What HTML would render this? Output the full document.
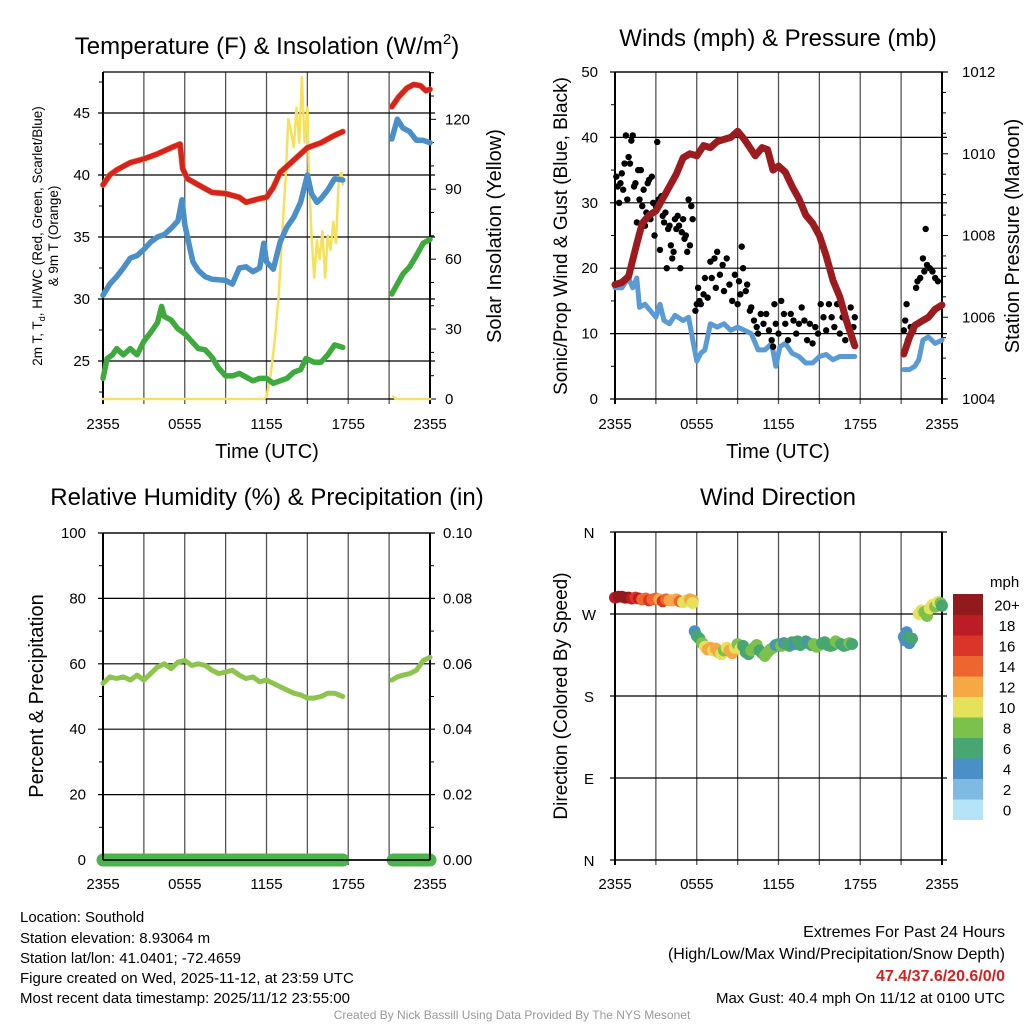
<!DOCTYPE html>
<html><head><meta charset="utf-8">
<style>
html,body{margin:0;padding:0;background:#fff;}
svg{display:block;font-family:"Liberation Sans",Arial,sans-serif;}
</style></head>
<body>
<svg id="chart" width="1024" height="1024" viewBox="0 0 1024 1024">
<rect x="0" y="0" width="1024" height="1024" fill="#fff"/>
<text x="267" y="54" font-size="24" text-anchor="middle">Temperature (F) &amp; Insolation (W/m<tspan font-size="15" dy="-10">2</tspan><tspan dy="10">)</tspan></text>
<text x="778" y="46" font-size="24" text-anchor="middle">Winds (mph) &amp; Pressure (mb)</text>
<text x="267" y="505" font-size="24" text-anchor="middle">Relative Humidity (%) &amp; Precipitation (in)</text>
<text x="778" y="505" font-size="24" text-anchor="middle">Wind Direction</text>

<text x="267" y="458" font-size="20" text-anchor="middle">Time (UTC)</text>
<text x="778" y="458" font-size="20" text-anchor="middle">Time (UTC)</text>

<text transform="translate(42,236) rotate(-90)" font-size="13.5" text-anchor="middle">2m T, T<tspan font-size="9" dy="3">d</tspan><tspan dy="-3">, HI/WC (Red, Green, Scarlet/Blue)</tspan></text>
<text transform="translate(58,236) rotate(-90)" font-size="13.5" text-anchor="middle">&amp; 9m T (Orange)</text>
<text transform="translate(501,236) rotate(-90)" font-size="20" text-anchor="middle">Solar Insolation (Yellow)</text>
<text transform="translate(567,236) rotate(-90)" font-size="19" text-anchor="middle">Sonic/Prop Wind &amp; Gust (Blue, Black)</text>
<text transform="translate(1019,236) rotate(-90)" font-size="20" text-anchor="middle">Station Pressure (Maroon)</text>
<text transform="translate(43,696) rotate(-90)" font-size="20" text-anchor="middle">Percent &amp; Precipitation</text>
<text transform="translate(567,696) rotate(-90)" font-size="19" text-anchor="middle">Direction (Colored By Speed)</text>

<g font-size="15">
<text x="20" y="922">Location: Southold</text>
<text x="20" y="943">Station elevation: 8.93064 m</text>
<text x="20" y="963">Station lat/lon: 41.0401; -72.4659</text>
<text x="20" y="983">Figure created on Wed, 2025-11-12, at 23:59 UTC</text>
<text x="20" y="1003">Most recent data timestamp: 2025/11/12 23:55:00</text>
</g>
<g font-size="15" text-anchor="end">
<text x="1005" y="937" font-size="16">Extremes For Past 24 Hours</text>
<text x="1005" y="959" font-size="16">(High/Low/Max Wind/Precipitation/Snow Depth)</text>
<text x="1005" y="981" font-size="16" font-weight="bold" fill="#d62020">47.4/37.6/20.6/0/0</text>
<text x="1005" y="1003">Max Gust: 40.4 mph On 11/12 at 0100 UTC</text>
</g>
<text x="512" y="1019" font-size="12" fill="#999" text-anchor="middle">Created By Nick Bassill Using Data Provided By The NYS Mesonet</text>
</svg>
<script>
// ---------- Data ----------
const xTickLabels = ["2355","0555","1155","1755","2355"];
const tempT = [0,0.5,1,1.5,2,3,4,5,5.65,5.85,6.2,7,8,9,10,10.5,11.5,12,12.5,13,14,15,16,17,17.6,21.2,21.7,22.3,22.8,23.3,23.7,24];
const tempV = [39.2,40,40.4,40.7,41,41.3,41.7,42.2,42.5,40.5,39.7,39.2,38.6,38.5,38.2,37.8,38.1,38.2,39,40.2,41.2,42.2,42.6,43.2,43.5,45.5,46.3,47,47.3,47.2,46.8,46.9];
const dewT = [0,0.5,1,1.5,2,2.5,3,3.5,4,4.5,5,5.5,5.8,6,6.3,6.6,7,7.5,8,9,9.5,10,10.5,11,11.5,11.8,12,12.5,13,13.5,14,14.5,15,15.3,15.7,16,16.5,17,17.6,21.2,21.6,22,22.5,23,23.5,24];
const dewV = [30.3,31.2,31.8,32.5,33.3,33.5,34,34.6,35,35.2,35.7,36.3,38,36,34.5,33,32.3,31.8,31.6,31.5,31.2,32.5,32.6,32.2,32.5,34.5,33,32.4,34.6,35.8,36.6,37.8,40,38.5,37.8,38.1,38.8,39.7,39.6,42.9,44.5,43.8,43.5,42.8,42.8,42.6];
const wcT = [0,0.3,0.7,1,1.5,2,2.5,3,3.5,4,4.3,4.5,5,5.5,6,6.5,7,7.5,8,8.5,9,9.5,10,10.5,11,11.5,12,12.5,13,13.5,14,14.5,14.9,15.5,16,16.5,17,17.6,21.2,21.6,22,22.5,23,23.5,24];
const wcV = [23.6,25.2,25.5,26,25.5,26,25.5,26.6,27.3,28.1,29.4,28.6,28.3,27.6,27.2,26.6,26,25.9,25.3,24.4,23.8,23.8,24,23.7,23.4,23.6,23.6,23.2,23.4,23.6,24.1,24.3,25.2,24.9,24.9,25.5,26.3,26.1,30.4,31.2,32,32.6,33.5,34.5,34.8];
const solarT = [0,11.8,12,12.3,12.6,12.9,13.2,13.4,13.6,13.8,14,14.2,14.4,14.6,14.8,15,15.1,15.3,15.5,15.7,15.9,16.1,16.3,16.5,16.7,16.9,17.1,17.3,17.5,17.6,21.3,21.5,24];
const solarV = [0,0,1,10,25,45,75,95,120,115,108,125,110,138,110,125,100,70,52,68,60,72,52,70,64,76,67,94,97,92,1,0,0];
const tempLeftTicks = [25,30,35,40,45];
const solarTicks = [0,30,60,90,120];

const windT = [0,0.5,1,1.3,1.6,1.8,2.2,2.6,3,3.3,3.6,4,4.4,5,5.4,5.8,6,6.3,6.6,7,7.5,8,8.5,9,9.5,10,10.5,11,11.5,11.8,12.1,12.5,13,13.5,14,14.5,15,15.5,16,16.5,17,17.6,21.2,21.6,22,22.3,22.6,23,23.5,24];
const windV = [17,17,18.5,17,18.5,14,14.5,13.5,12.5,14.5,12,11.5,12.8,12,12.5,8,5.8,7,7.5,11.5,11,11.5,10.5,11,10.5,10,7.5,7.5,8.5,5,8,8.5,7,6.5,5.5,5.5,6.5,6.8,6,6.5,6.5,6.5,4.5,4.5,5,6,9,9.5,8.5,9];
const presT = [0,0.5,1,1.3,1.6,2,2.5,3,3.5,4,4.5,5,5.5,6,6.5,7,7.5,8,8.5,9,9.5,10,10.3,10.8,11.2,11.6,12,12.5,13,13.5,14,14.5,15,15.5,16,16.5,17,17.4,17.6,21.2,21.6,22,22.5,23,23.5,24];
const presV = [1006.8,1006.85,1007,1007.4,1007.8,1008.3,1008.5,1008.6,1008.9,1009.2,1009.5,1009.9,1010,1009.95,1010.2,1010.15,1010.3,1010.35,1010.4,1010.55,1010.35,1010.1,1009.95,1010.15,1010.1,1009.6,1009.7,1009.55,1009.2,1008.9,1008.5,1008.3,1008,1007.5,1006.9,1006.5,1005.9,1005.5,1005.3,1005.1,1005.5,1005.8,1005.9,1006,1006.2,1006.3];
const gustT = [0.1,0.2,0.3,0.4,0.5,0.6,0.7,0.8,0.9,1.0,1.1,1.2,1.3,1.4,1.5,1.6,1.7,1.8,1.9,2.0,2.1,2.2,2.3,2.4,2.5,2.6,2.7,2.8,2.9,3.0,3.1,3.2,3.3,3.4,3.5,3.6,3.7,3.8,3.9,4.0,4.1,4.2,4.3,4.4,4.5,4.6,4.7,4.8,4.9,5.0,5.1,5.2,5.3,5.4,5.5,5.6,5.7,5.9,6.0,6.1,6.2,6.3,6.5,6.6,6.8,7.0,7.1,7.3,7.4,7.5,7.7,7.9,8.0,8.2,8.4,8.6,8.8,9.0,9.1,9.2,9.3,9.4,9.6,9.7,9.9,10.0,10.2,10.4,10.5,10.7,10.9,11.1,11.3,11.5,11.6,11.7,11.8,12.0,12.2,12.4,12.5,12.7,12.9,13.1,13.3,13.5,13.7,13.9,14.1,14.3,14.5,14.7,14.9,15.1,15.3,15.5,15.7,15.9,16.1,16.3,16.5,16.7,16.9,17.1,17.3,17.5,17.6,21.2,21.3,21.4,21.5,21.7,21.9,22.1,22.2,22.4,22.6,22.7,22.8,22.9,23.1,23.3,23.5,23.7];
const gustV = [34,32.5,30,33,34.5,32,36,40.3,30.5,37,36,39.5,40.3,32.5,33,27,35,30.5,35,29.5,32,26.5,28.5,33,33.5,27.5,34,30,25,29.5,39.3,30.5,22.8,31,28,27,28.5,20,26,26.5,23.5,21.5,22.5,27.5,26,28,26.5,20,25.5,27.5,24.5,25,22.5,30.5,23.5,29.5,27.5,13.5,14.5,17,15,14.5,16,18.5,15.5,21,18.5,21.5,17,22.5,19,20.5,16.5,21.5,17.5,15,19,14.5,18,16,23.3,20,16.5,17.5,13.5,14,12,11,10,13,11.5,13,10.5,9,8,14.5,11.5,10,15,13,11.5,9,13,12,10,11.5,14,12,9,11.5,8.5,11,10,14.5,12.5,10.5,14.5,12.5,11,14.5,10,12.5,9,11,14,11,12.5,10.5,12,14.5,9,11,10.5,17,18,18.5,21.5,19.5,26,20.5,20,19.5,18.5,18];
const windTicks = [0,10,20,30,40,50];
const presTicks = [1004,1006,1008,1010,1012];

const rhT = [0,0.5,1,1.5,2,2.5,3,3.5,4,4.5,5,5.5,6,6.5,7,7.5,8,8.5,9,9.5,10,10.5,11,11.5,12,12.5,13,13.5,14,14.5,15,15.5,16,16.5,17,17.6,21.2,21.6,22,22.5,23,23.5,24];
const rhV = [54,56,55.5,56,55,56.5,55,57,59,60,58.5,60.5,61,59.5,60,59.5,58,57,57.5,58,56.5,55.5,56,54.5,55,54,53,52,51,50.5,49.5,49.5,50,51,51,50,55,56,56.5,57,58,61,62];
const precipT = [0,17.6,21.3,24];
const precipV = [0,0,0,0];
const rhTicks = [0,20,40,60,80,100];
const precipTicks = ["0.00","0.02","0.04","0.06","0.08","0.10"];

const dirT = [0,0.25,0.5,0.75,1,1.25,1.5,1.75,2,2.25,2.5,2.75,3,3.25,3.5,3.75,4,4.25,4.5,4.75,5,5.25,5.5,5.7,5.7,5.85,6.0,6.2,6.4,6.6,6.8,7.0,7.2,7.4,7.6,7.8,8.0,8.2,8.4,8.6,8.8,9.0,9.2,9.4,9.6,9.8,10.0,10.2,10.4,10.6,10.8,11.0,11.2,11.4,11.6,11.8,12.0,12.2,12.4,12.6,12.8,13.0,13.2,13.4,13.6,13.8,14.0,14.2,14.4,14.6,14.8,15.0,15.2,15.4,15.6,15.8,16.0,16.2,16.4,16.6,16.8,17.0,17.2,17.4,21.2,21.3,21.4,21.5,21.6,21.7,21.8,22.3,22.5,22.7,22.9,23.1,23.3,23.5,23.7,23.9,24];
const dirV = [288,289,289,288,288,287,288,287,286,287,285,286,287,286,284,286,285,285,286,284,283,285,286,285,282,251,246,243,238,234,231,233,230,232,228,226,230,233,230,227,233,237,232,235,228,226,230,233,236,230,227,224,228,231,233,236,237,235,238,237,235,239,237,240,236,238,240,238,236,237,234,236,238,239,236,235,236,240,238,237,235,236,238,237,245,241,250,244,238,241,243,270,274,272,268,276,280,278,283,282,279];
const dirS = [18,20,21,20,20,19,17,18,15,14,16,15,14,13,16,15,12,13,12,14,10,11,12,12,10,4,6,6,8,10,12,12,11,12,12,10,8,10,12,12,10,8,10,6,6,6,8,8,8,6,6,8,8,8,8,4,6,8,4,6,6,6,4,6,6,6,6,4,6,8,8,8,6,6,6,6,6,8,8,6,6,6,8,6,4,4,4,6,4,4,6,10,10,8,8,10,10,8,10,8,6];
const dirTickLabels = ["N","E","S","W","N"];
const speedBinLabels = ["0","2","4","6","8","10","12","14","16","18","20+"];
const speedBinColors = ["#b5e3f7","#7fbae2","#4a8fc5","#48a670","#7bc14b","#e5e15a","#f6a844","#ee6530","#db3428","#bc1c24","#911a1c"];

// ---------- Helpers ----------
const NS = "http://www.w3.org/2000/svg";
const svg = document.getElementById("chart");
const GAP_START = 17.8, GAP_END = 21.0;
function mk(tag, attrs, name, parent) {
  const e = document.createElementNS(NS, tag);
  for (const k in attrs) e.setAttribute(k, attrs[k]);
  
  
  (parent || svg).appendChild(e);
  return e;
}
function lin(d0, d1, r0, r1) { return v => r0 + (v - d0) / (d1 - d0) * (r1 - r0); }

const P1 = {l:103,r:430,t:72,b:399,lab:30};
const P2 = {l:615,r:942,t:72,b:399,lab:30};
const P3 = {l:103,r:430,t:533,b:860,lab:29};
const P4 = {l:615,r:942,t:532,b:860,lab:29};

function frame(P, key) {
  const g = mk("g", {}, key + "-plot-area");
  const xs = lin(0, 24, P.l, P.r);
  for (let h = 0; h <= 24; h += 3) {
    const x = xs(h);
    mk("line", {x1:x, y1:P.t, x2:x, y2:P.b + 5, stroke:(h===0||h===24)?"#000":"#555", "stroke-width":(h===0||h===24)?2:1.3}, key + "-x-gridline", g);
  }
  xTickLabels.forEach((lab, i) => {
    const t = mk("text", {x:xs(i*6), y:P.b + P.lab, "font-size":15, "text-anchor":"middle"}, key + "-x-tick-label", g);
    t.textContent = lab;
  });
  mk("line", {x1:P.l, y1:P.t, x2:P.r, y2:P.t, stroke:"#000", "stroke-width":1.3}, key + "-top-border", g);
  mk("line", {x1:P.l, y1:P.b, x2:P.r, y2:P.b, stroke:"#000", "stroke-width":1.3}, key + "-bottom-border", g);
  return {xs, g};
}
function hgrid(P, y, key, g) {
  mk("line", {x1:P.l - 5, y1:y, x2:P.r + 5, y2:y, stroke:"#000", "stroke-width":1.2}, key + "-y-gridline", g);
}
function lineSeries(ts, vs, xs, ys, color, w, name, g) {
  let segs = [], cur = [];
  for (let i = 0; i < ts.length; i++) {
    if (i > 0 && ts[i-1] <= GAP_START && ts[i] >= GAP_END) { segs.push(cur); cur = []; }
    cur.push(xs(ts[i]).toFixed(1) + "," + ys(vs[i]).toFixed(1));
  }
  segs.push(cur);
  segs.forEach(s => {
    mk("polyline", {points:s.join(" "), fill:"none", stroke:color, "stroke-width":w, "stroke-linejoin":"round", "stroke-linecap":"round"}, name, g);
  });
}
function leftLabel(x, y, txt, key, g) {
  const t = mk("text", {x:x, y:y + 5, "font-size":15, "text-anchor":"end"}, key, g);
  t.textContent = txt;
}
function rightLabel(x, y, txt, key, g) {
  const t = mk("text", {x:x, y:y + 5, "font-size":15, "text-anchor":"start"}, key, g);
  t.textContent = txt;
}

// ---------- Panel 1 ----------
(function(){
  const {xs, g} = frame(P1, "temp");
  const ys = lin(25, 45, 361, 113);
  const ysS = lin(0, 120, 399, 119.3);
  tempLeftTicks.forEach(v => { hgrid(P1, ys(v), "temp", g); leftLabel(P1.l - 13, ys(v), String(v), "temp-y-tick-label", g); });
  for (let v = 22.5; v <= 48; v += 2.5) mk("line", {x1:P1.l - 4, y1:ys(v), x2:P1.l, y2:ys(v), stroke:"#000", "stroke-width":1}, "temp-y-minor-tick", g);
  for (let v = 0; v <= 140; v += 10) mk("line", {x1:P1.r, y1:ysS(v), x2:P1.r + (v % 30 === 0 ? 6 : 4), y2:ysS(v), stroke:"#000", "stroke-width":1}, "solar-y-tick", g);
  solarTicks.forEach(v => rightLabel(P1.r + 15, ysS(v), String(v), "solar-y-tick-label", g));
  mk("line", {x1:P1.l, y1:P1.t, x2:P1.l, y2:P1.b, stroke:"#000", "stroke-width":2}, "temp-left-axis", g);
  mk("line", {x1:P1.r, y1:P1.t, x2:P1.r, y2:P1.b, stroke:"#000", "stroke-width":2}, "temp-right-axis", g);
  lineSeries(solarT, solarV, xs, ysS, "#f7e15a", 2.5, "solar-insolation-line", g);
  lineSeries(wcT, wcV, xs, ys, "#3eaa3e", 5.5, "wind-chill-line", g);
  lineSeries(dewT, dewV, xs, ys, "#4a8fc8", 5.5, "dewpoint-line", g);
  lineSeries(tempT, tempV, xs, ys, "#f08a30", 6, "temp-9m-line", g);
  lineSeries(tempT, tempV, xs, ys, "#d72222", 5, "temp-2m-line", g);
})();

// ---------- Panel 2 ----------
(function(){
  const {xs, g} = frame(P2, "winds");
  const ys = lin(0, 50, P2.b, P2.t);
  const ysP = lin(1004, 1012, P2.b, P2.t);
  windTicks.forEach(v => { hgrid(P2, ys(v), "winds", g); leftLabel(P2.l - 17, ys(v), String(v), "wind-y-tick-label", g); });
  for (let v = 5; v < 50; v += 10) mk("line", {x1:P2.l - 4, y1:ys(v), x2:P2.l, y2:ys(v), stroke:"#000", "stroke-width":1}, "wind-y-minor-tick", g);
  for (let v = 1004; v <= 1012.01; v += 0.5) mk("line", {x1:P2.r, y1:ysP(v), x2:P2.r + (v % 2 === 0 ? 6 : 4), y2:ysP(v), stroke:"#000", "stroke-width":1}, "pressure-y-tick", g);
  presTicks.forEach(v => rightLabel(P2.r + 20, ysP(v), String(v), "pressure-y-tick-label", g));
  mk("line", {x1:P2.l, y1:P2.t, x2:P2.l, y2:P2.b, stroke:"#000", "stroke-width":2}, "winds-left-axis", g);
  mk("line", {x1:P2.r, y1:P2.t, x2:P2.r, y2:P2.b, stroke:"#000", "stroke-width":2}, "winds-right-axis", g);
  lineSeries(windT, windV, xs, ys, "#5b9bd5", 5, "sustained-wind-line", g);
  gustT.forEach((t, i) => {
    const c = mk("circle", {cx:xs(t), cy:ys(gustV[i]), r:3.2, fill:"#000"}, "gust-point", g);
  });
  lineSeries(presT, presV, xs, ysP, "#9b1b1e", 7, "station-pressure-line", g);
})();

// ---------- Panel 3 ----------
(function(){
  const {xs, g} = frame(P3, "humidity");
  const ys = lin(0, 100, P3.b, P3.t);
  rhTicks.forEach((v, i) => {
    hgrid(P3, ys(v), "humidity", g);
    leftLabel(P3.l - 17, ys(v), String(v), "humidity-y-tick-label", g);
    rightLabel(P3.r + 13, ys(v), precipTicks[i], "precip-y-tick-label", g);
  });
  for (let v = 10; v < 100; v += 20) {
    mk("line", {x1:P3.l - 4, y1:ys(v), x2:P3.l, y2:ys(v), stroke:"#000", "stroke-width":1}, "humidity-y-minor-tick", g);
    mk("line", {x1:P3.r, y1:ys(v), x2:P3.r + 4, y2:ys(v), stroke:"#000", "stroke-width":1}, "precip-y-minor-tick", g);
  }
  const ysPr = lin(0, 0.1, P3.b, P3.t);
  lineSeries(precipT, precipV, xs, ysPr, "#4db34d", 13, "precipitation-line", g);
  mk("line", {x1:P3.l, y1:P3.t, x2:P3.l, y2:P3.b, stroke:"#000", "stroke-width":2}, "humidity-left-axis", g);
  mk("line", {x1:P3.r, y1:P3.t, x2:P3.r, y2:P3.b, stroke:"#000", "stroke-width":2}, "humidity-right-axis", g);
  mk("line", {x1:P3.l, y1:P3.b, x2:P3.r, y2:P3.b, stroke:"#000", "stroke-width":1.5}, "humidity-zero-line", g);
  lineSeries(rhT, rhV, xs, ys, "#8cc44e", 5, "relative-humidity-line", g);
})();

// ---------- Panel 4 ----------
(function(){
  const {xs, g} = frame(P4, "direction");
  const ys = lin(0, 360, P4.b, P4.t);
  dirTickLabels.forEach((lab, i) => {
    const v = i * 90;
    hgrid(P4, ys(v), "direction", g);
    const t = mk("text", {x:P4.l - 26, y:ys(v) + 6, "font-size":15, "text-anchor":"middle"}, "direction-y-tick-label", g);
    t.textContent = lab;
  });
  mk("line", {x1:P4.l, y1:P4.t, x2:P4.l, y2:P4.b, stroke:"#000", "stroke-width":2}, "direction-left-axis", g);
  mk("line", {x1:P4.r, y1:P4.t, x2:P4.r, y2:P4.b, stroke:"#000", "stroke-width":2}, "direction-right-axis", g);
  dirT.forEach((t, i) => {
    const bin = Math.min(10, Math.floor(dirS[i] / 2));
    const c = mk("circle", {cx:xs(t), cy:ys(dirV[i]), r:6, fill:speedBinColors[bin]}, "direction-point", g);
  });
  const cb = mk("g", {}, "speed-colorbar");
  const lab = mk("text", {x:990, y:587, "font-size":15}, "colorbar-title", cb);
  lab.textContent = "mph";
  const top = 594, bh = 20.5;
  speedBinLabels.forEach((l, i) => {
    const y = top + (10 - i) * bh;
    mk("rect", {x:953, y:y, width:30, height:bh + 0.5, fill:speedBinColors[i]}, "colorbar-swatch", cb);
    const t = mk("text", {x:1007, y:y + bh/2 + 6, "font-size":15, "text-anchor":"middle"}, "colorbar-label", cb);
    t.textContent = l;
  });
})();
</script>
</body></html>
